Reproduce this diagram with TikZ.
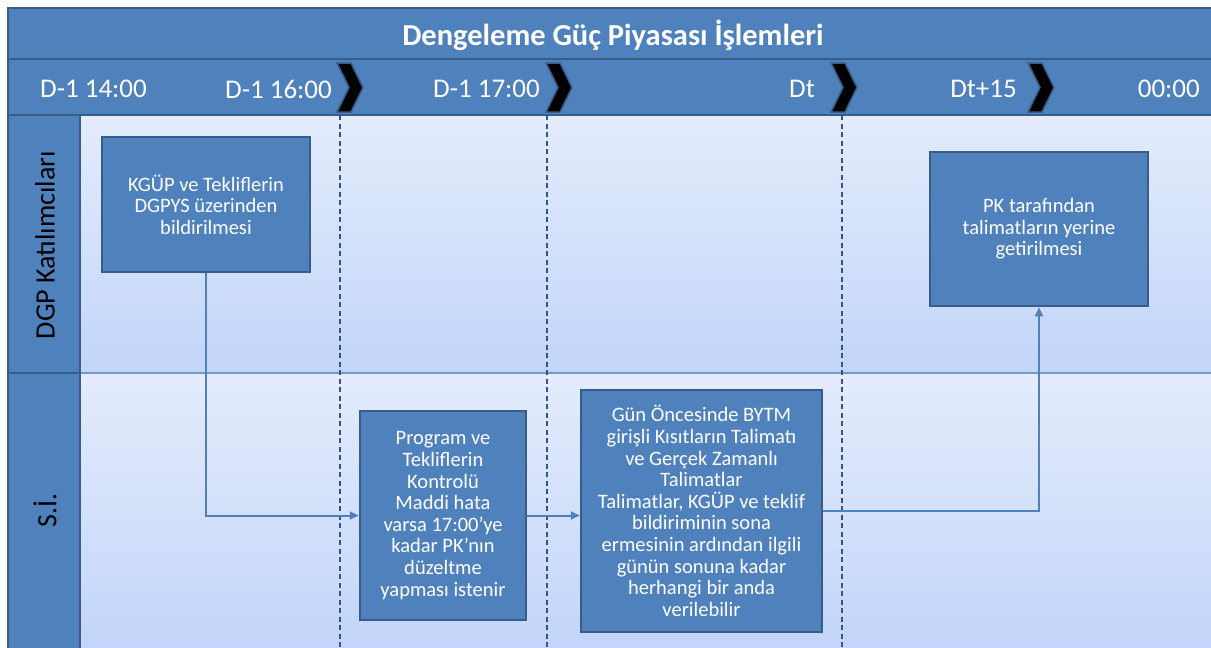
\documentclass[tikz,border=0pt]{standalone}
\usepackage{fontspec}
\setmainfont{Carlito}
\usetikzlibrary{arrows.meta}

\definecolor{barblue}{RGB}{79,129,189}
\definecolor{edgeblue}{RGB}{56,93,138}
\definecolor{lanetop}{RGB}{228,236,252}
\definecolor{lanebot}{RGB}{194,213,248}

\tikzset{
	stepbox/.style={draw=edgeblue, line width=2.5pt, fill=barblue, text=white, align=center,
		font=\fontsize{20.5}{21.6}\selectfont, inner sep=4pt},
	flow/.style={draw=barblue, line width=2pt, -{Triangle[length=9pt,width=8pt]}},
	timelabel/.style={text=white, font=\fontsize{27}{30}\selectfont, anchor=east, inner sep=0pt},
	lanelabel/.style={rotate=90, font=\fontsize{28}{32}\selectfont},
	divider/.style={edgeblue!90!blue, line width=2pt, dash pattern=on 5pt off 3.5pt},
}

\begin{document}
\begin{tikzpicture}[x=1pt,y=-1pt]
				\useasboundingbox (0,0) rectangle (1211,648);

				% Lane backgrounds
				\fill[top color=lanetop, bottom color=lanebot] (80,115) rectangle (1211,373);
				\fill[top color=lanetop, bottom color=lanebot] (80,373) rectangle (1211,648);
				\draw[barblue!80, line width=1.2pt] (80,373) -- (1211,373);

				% Title bar
				\filldraw[fill=barblue, draw=edgeblue, line width=2pt] (8,8) rectangle (1215,59);
				\node[text=white, font=\bfseries\fontsize{30.5}{34}\selectfont] (title) at (613,35) {Dengeleme Güç Piyasası İşlemleri};

				% Time bar
				\filldraw[fill=barblue, draw=edgeblue, line width=2pt] (8,59) rectangle (1215,115);
				\foreach \x in {337,546,831,1028}
					\filldraw[fill=black, draw=edgeblue, line width=1.5pt] (\x,63) -- ++(14,0) -- ++(12,24.5) -- ++(-12,24.5) -- ++(-14,0) -- ++(12,-24.5) -- cycle;
				\node[timelabel] (t1) at (147,89) {D-1 14:00};
				\node[timelabel] (t2) at (332,89) {D-1 16:00};
				\node[timelabel] (t3) at (540,89) {D-1 17:00};
				\node[timelabel] (t4) at (815,89) {Dt};
				\node[timelabel] (t5) at (1017,89) {Dt+15};
				\node[timelabel] (t6) at (1200,89) {00:00};

				% Lane headers
				\filldraw[fill=barblue, draw=edgeblue, line width=2pt] (8,115) rectangle (80,373);
				\filldraw[fill=barblue, draw=edgeblue, line width=2pt] (8,373) rectangle (80,655);
				\node[lanelabel] (katilimci) at (45,245) {DGP Katılımcıları};
				\node[lanelabel] (si) at (45,510) {S.İ.};

				% Time dividers
				\foreach \x in {340,547,842}
					\draw[divider] (\x,115) -- (\x,648);

				% Steps
				\node[stepbox, minimum width=208pt, minimum height=135pt] (kgup) at (206,204.5)
					{KGÜP ve Tekliflerin\\DGPYS üzerinden\\bildirilmesi};
				\node[stepbox, minimum width=218pt, minimum height=154pt] (pk) at (1039,229)
					{PK tarafından\\talimatların yerine\\getirilmesi};
				\node[stepbox, minimum width=166pt, minimum height=209pt] (kontrol) at (443,515.5)
					{Program ve\\Tekliflerin\\Kontrolü\\Maddi hata\\varsa 17:00’ye\\kadar PK’nın\\düzeltme\\yapması istenir};
				\node[stepbox, minimum width=241pt, minimum height=242pt] (talimat) at (701.5,511)
					{Gün Öncesinde BYTM\\girişli Kısıtların Talimatı\\ve Gerçek Zamanlı\\Talimatlar\\Talimatlar, KGÜP ve teklif\\bildiriminin sona\\ermesinin ardından ilgili\\günün sonuna kadar\\herhangi bir anda\\verilebilir};

				% Flow
				\draw[flow] (kgup.south) |- (kontrol.west);
				\draw[flow] (kontrol.east) -- (talimat.west |- kontrol.east);
				\draw[flow] (talimat.east) -| (pk.south);
\end{tikzpicture}
\end{document}
